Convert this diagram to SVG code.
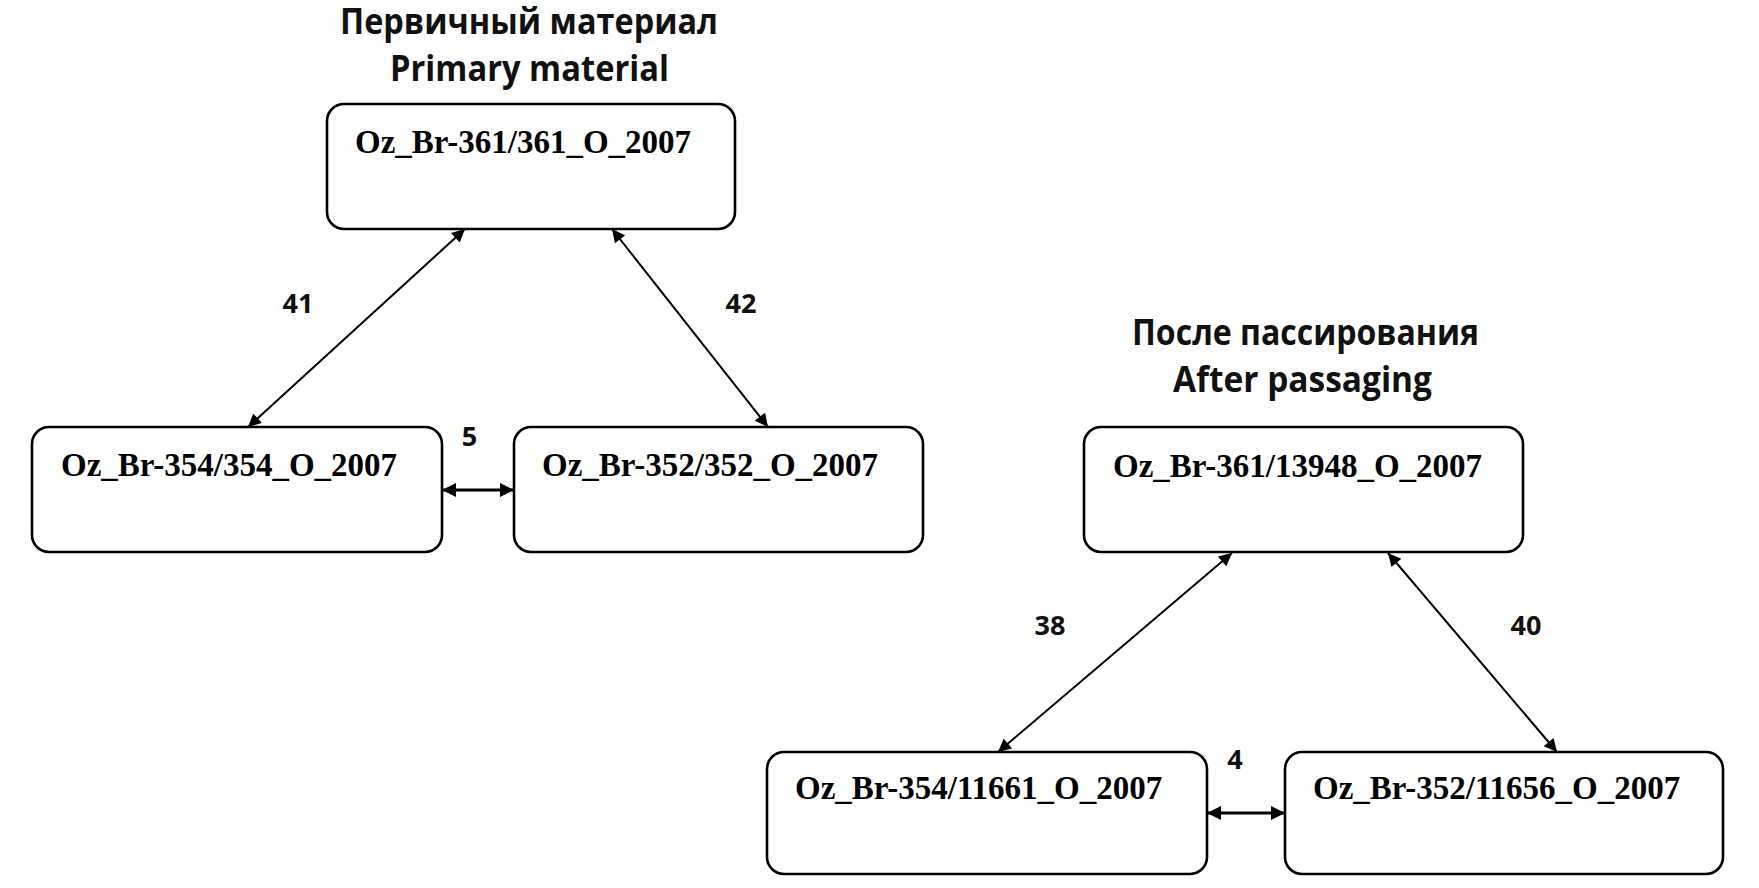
<svg xmlns="http://www.w3.org/2000/svg" width="1759" height="888" viewBox="0 0 1759 888">
<style>
.box{fill:#fff;stroke:#000;stroke-width:2.6}
.lbl{font-family:"Liberation Serif","Times New Roman",serif;font-weight:bold;font-size:33px;fill:#000}
.ttl{font-family:"Open Sans","Liberation Sans",sans-serif;font-weight:bold;font-size:35px;fill:#111;text-anchor:middle}
.num{font-family:"Open Sans","Liberation Sans",sans-serif;font-weight:bold;font-size:27px;fill:#111;text-anchor:middle}
.thin{stroke:#000;stroke-width:2;fill:none;marker-start:url(#ah);marker-end:url(#ah)}
.thick{stroke:#000;stroke-width:3.2;fill:none;marker-start:url(#ah2);marker-end:url(#ah2)}
</style>
<defs>
<marker id="ah" viewBox="0 0 10 10" refX="10" refY="5" markerUnits="userSpaceOnUse" markerWidth="17" markerHeight="13" orient="auto-start-reverse"><path d="M0,0 L10,5 L0,10 z" fill="#000"/></marker>
<marker id="ah2" viewBox="0 0 10 10" refX="10" refY="5" markerUnits="userSpaceOnUse" markerWidth="15" markerHeight="14" orient="auto-start-reverse"><path d="M0,0 L10,5 L0,10 z" fill="#000"/></marker>
</defs>
<rect width="1759" height="888" fill="#fff"/>
<g id="titles">
<text class="ttl" x="529" y="34" textLength="378" lengthAdjust="spacingAndGlyphs">Первичный материал</text>
<text class="ttl" x="529.5" y="81" textLength="279" lengthAdjust="spacingAndGlyphs">Primary material</text>
<text class="ttl" x="1305.5" y="345" textLength="347" lengthAdjust="spacingAndGlyphs">После пассирования</text>
<text class="ttl" x="1302.5" y="392" textLength="259" lengthAdjust="spacingAndGlyphs">After passaging</text>
</g>
<g id="connectors">
<line class="thin" x1="465" y1="229" x2="248" y2="427"/>
<line class="thin" x1="612" y1="229" x2="768" y2="427"/>
<line class="thick" x1="442" y1="490" x2="514" y2="490"/>
<line class="thin" x1="1232" y1="553" x2="998" y2="752"/>
<line class="thin" x1="1388" y1="553" x2="1557" y2="752"/>
<line class="thick" x1="1207" y1="813" x2="1285" y2="813"/>
<text class="num" x="298" y="313">41</text>
<text class="num" x="741" y="313">42</text>
<text class="num" x="469.5" y="446">5</text>
<text class="num" x="1050" y="635">38</text>
<text class="num" x="1526" y="635">40</text>
<text class="num" x="1235" y="769">4</text>
</g>
<g id="n361">
<rect class="box" x="327" y="104" width="408" height="125" rx="17"/>
<text class="lbl" x="355" y="153">Oz_Br-361/361_O_2007</text>
</g>
<g id="n354">
<rect class="box" x="32" y="427" width="410" height="125" rx="17"/>
<text class="lbl" x="61" y="476">Oz_Br-354/354_O_2007</text>
</g>
<g id="n352">
<rect class="box" x="514" y="427" width="409" height="125" rx="17"/>
<text class="lbl" x="542" y="476">Oz_Br-352/352_O_2007</text>
</g>
<g id="n13948">
<rect class="box" x="1084" y="427" width="439" height="125" rx="17"/>
<text class="lbl" x="1113" y="477">Oz_Br-361/13948_O_2007</text>
</g>
<g id="n11661">
<rect class="box" x="767" y="752" width="440" height="122" rx="17"/>
<text class="lbl" x="795" y="799">Oz_Br-354/11661_O_2007</text>
</g>
<g id="n11656">
<rect class="box" x="1285" y="752" width="438" height="122" rx="17"/>
<text class="lbl" x="1313" y="799">Oz_Br-352/11656_O_2007</text>
</g>
</svg>
